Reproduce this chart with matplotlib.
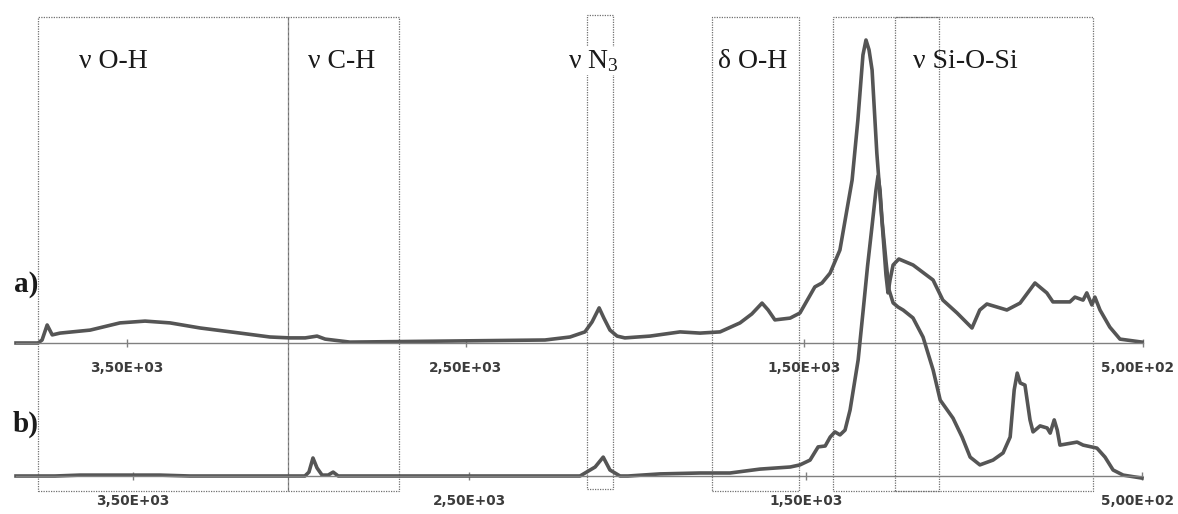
import matplotlib
matplotlib.use('Agg')
import matplotlib.pyplot as plt
import matplotlib.transforms as mtransforms
from matplotlib.patches import Rectangle

# spectrum a) wavenumber (cm-1) / absorbance (a.u.)
wn_a = [3828, 3763, 3751, 3736, 3721, 3698, 3609, 3521, 3447, 3373, 3284, 3166, 3078, 3019,
        2974, 2939, 2915, 2842, 2266, 2192, 2148, 2127, 2106, 2092, 2074, 2053, 2030, 1956,
        1867, 1808, 1749, 1690, 1655, 1625, 1607, 1587, 1542, 1513, 1469, 1448, 1424, 1395,
        1359, 1342, 1327, 1318, 1309, 1300, 1286, 1271, 1259, 1253, 1247, 1238, 1221, 1179,
        1120, 1091, 1049, 1005, 982, 961, 902, 863, 819, 784, 766, 716, 701, 677, 666, 651,
        642, 627, 598, 568, 503]
abs_a = [0.0, 0.0, 0.01, 0.06, 0.027, 0.033, 0.043, 0.067, 0.073, 0.067, 0.05, 0.033, 0.02, 0.017,
         0.017, 0.023, 0.013, 0.003, 0.01, 0.02, 0.037, 0.07, 0.117, 0.083, 0.043, 0.023, 0.017, 0.023,
         0.037, 0.033, 0.037, 0.067, 0.097, 0.133, 0.11, 0.077, 0.083, 0.1, 0.187, 0.2, 0.233, 0.31,
         0.543, 0.743, 0.96, 1.01, 0.977, 0.91, 0.633, 0.41, 0.227, 0.167, 0.21, 0.26, 0.28, 0.26,
         0.21, 0.143, 0.1, 0.05, 0.11, 0.13, 0.11, 0.133, 0.2, 0.167, 0.137, 0.137, 0.153, 0.143, 0.167, 0.127,
         0.153, 0.11, 0.053, 0.013, 0.003]

# spectrum b)
wn_b = [3848, 3732, 3658, 3420, 3331, 2989, 2977, 2965, 2953, 2938, 2920, 2905, 2890, 2171,
        2126, 2102, 2082, 2052, 2028, 1933, 1814, 1725, 1636, 1546, 1517, 1487, 1463, 1442,
        1427, 1413, 1398, 1383, 1368, 1344, 1329, 1316, 1303, 1291, 1285, 1279, 1273, 1261,
        1252, 1240, 1225, 1210, 1181, 1151, 1121, 1100, 1062, 1035, 1011, 982, 943, 913, 892,
        880, 871, 862, 848, 833, 824, 803, 782, 773, 761, 752, 744, 693, 675, 634, 610, 586,
        556, 500]
abs_b = [0.0, 0.0, 0.003, 0.003, 0.0, 0.0, 0.013, 0.06, 0.027, 0.003, 0.003, 0.013, 0.0, 0.0,
         0.03, 0.063, 0.02, 0.0, 0.0, 0.007, 0.01, 0.01, 0.023, 0.03, 0.037, 0.053, 0.097, 0.1,
         0.13, 0.147, 0.137, 0.153, 0.22, 0.387, 0.553, 0.7, 0.83, 0.953, 1.0, 0.953, 0.853, 0.713,
         0.62, 0.577, 0.563, 0.553, 0.527, 0.463, 0.353, 0.253, 0.193, 0.13, 0.063, 0.037, 0.053, 0.077, 0.13,
         0.287, 0.343, 0.31, 0.303, 0.187, 0.147, 0.167, 0.16, 0.143, 0.187, 0.153, 0.103, 0.113, 0.103, 0.093, 0.063, 0.02,
         0.003, -0.007]

ticks = [3500, 2500, 1500, 500]
tick_labels = ['3,50E+03', '2,50E+03', '1,50E+03', '5,00E+02']

# assignment regions (wavenumber start, end) and labels
regions = [(3763, 3025), (3025, 2697), (2142, 2065), (1773, 1516), (1416, 1103), (1232, 648)]
band_labels = ['ν O-H', 'ν C-H', 'ν N$_3$', 'δ O-H', 'ν Si-O-Si']
band_label_pos = [3642, 2966, 2198, 1755, 1179]

plt.rcParams['mathtext.default'] = 'regular'

W, H = 1178, 514
fig = plt.figure(figsize=(W / 100, H / 100), dpi=100)

line_col = '#555555'


def make_axes(left, right, base, xmax, wn, ab):
	ax = fig.add_axes([left / W, 1 - base / H, (right - left) / W, 330 / H])
	ax.patch.set_alpha(0)
	ax.plot(wn, ab, color=line_col, lw=2.6, solid_joinstyle='round', clip_on=False)
	ax.set_xlim(xmax, 500)
	ax.set_ylim(0, 1.1)
	for s in ['top', 'left', 'right']:
		ax.spines[s].set_visible(False)
	ax.spines['bottom'].set_color('#808080')
	ax.spines['bottom'].set_linewidth(1.0)
	ax.set_yticks([])
	ax.set_xticks(ticks)
	ax.set_xticklabels(tick_labels)
	ax.tick_params(axis='x', direction='inout', length=6, width=1, color='#808080',
				   pad=10, labelsize=9.8, labelcolor='#3c3c3c')
	for t in ax.get_xticklabels():
		t.set_fontweight('bold')
		t.set_family('DejaVu Sans')
	# last label sits a little left of its tick, as in the original export
	last = ax.get_xticklabels()[-1]
	last.set_transform(last.get_transform() + mtransforms.ScaledTranslation(-5 / 100, 0, fig.dpi_scale_trans))
	return ax


ax_a = make_axes(16, 1143, 343, 3828, wn_a, abs_a)
ax_b = make_axes(16, 1142, 476, 3848, wn_b, abs_b)

# boxes: x in wavenumber (top axis), y in figure fraction
trans = mtransforms.blended_transform_factory(ax_a.transData, fig.transFigure)
for i, (w0, w1) in enumerate(regions):
	if i == 2:
		y0, y1 = 1 - 489 / H, 1 - 15 / H
	else:
		y0, y1 = 1 - 491 / H, 1 - 17 / H
	r = Rectangle((w0, y0), w1 - w0, y1 - y0, transform=trans, fill=False,
				  edgecolor='#707070', lw=0.9, linestyle=(0, (1, 1)), clip_on=False, zorder=1)
	ax_a.add_patch(r)

for lab, wx in zip(band_labels, band_label_pos):
	kw = {}
	if 'N' in lab:
		kw['bbox'] = dict(facecolor='white', edgecolor='none', pad=1)
	fig.text(0, 1 - 68 / H, lab, transform=trans, fontsize=20, family='Liberation Serif',
			 ha='left', va='baseline', color='#1a1a1a', zorder=5, **kw).set_x(wx)

fig.text(26 / W, 1 - 285 / H, 'a)', fontsize=21, family='Liberation Serif', fontweight='bold',
		 ha='center', va='center', color='#1a1a1a')
fig.text(26 / W, 1 - 424 / H, 'b)', fontsize=21, family='Liberation Serif', fontweight='bold',
		 ha='center', va='center', color='#1a1a1a')

fig.savefig('out.png', dpi=100, facecolor='white')
